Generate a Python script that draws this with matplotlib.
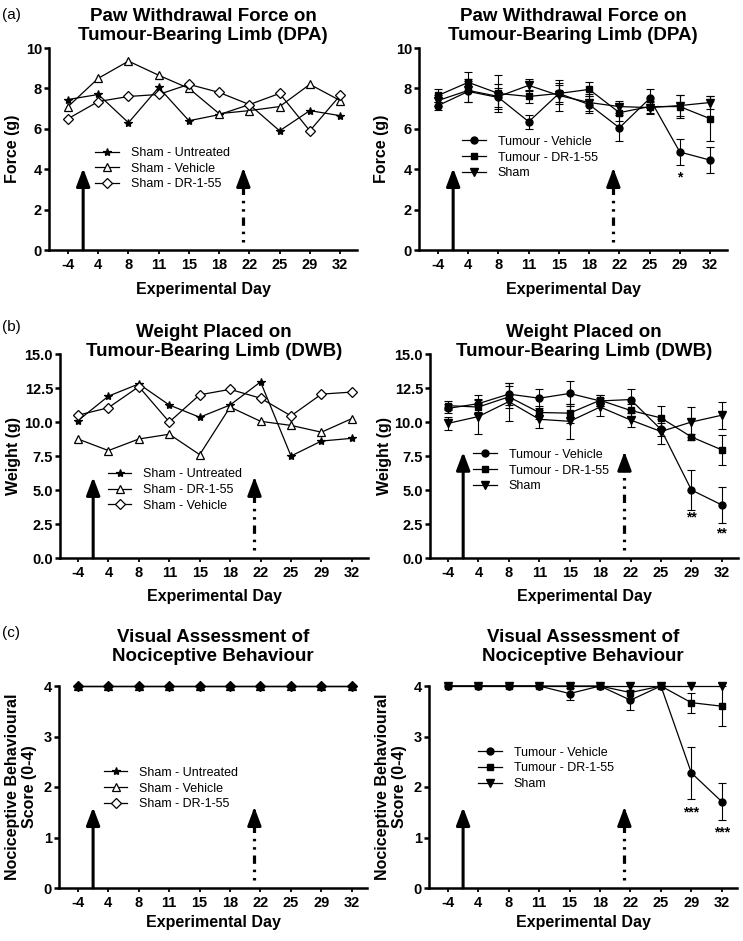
import numpy as np
import matplotlib
matplotlib.use("Agg")
import matplotlib.pyplot as plt
from matplotlib.lines import Line2D

plt.rcParams['font.family'] = ['Liberation Sans', 'DejaVu Sans']
plt.rcParams['lines.scale_dashes'] = False

# ---------------- data ----------------
day_labels = ['-4', '4', '8', '11', '15', '18', '22', '25', '29', '32']

# (a) Paw withdrawal force (DPA)
a_sham_untreated = [7.45, 7.7, 6.3, 8.05, 6.4, 6.7, 7.2, 5.9, 6.9, 6.65]
a_sham_vehicle = [7.1, 8.5, 9.35, 8.65, 8.0, 6.75, 6.9, 7.1, 8.2, 7.4]
a_sham_dr155 = [6.5, 7.35, 7.6, 7.7, 8.2, 7.8, 7.2, 7.75, 5.9, 7.65]

a_tum_vehicle = [7.15, 7.85, 7.55, 6.35, 7.75, 7.2, 6.05, 7.5, 4.85, 4.45]
a_tum_vehicle_err = [0.2, 0.5, 0.45, 0.35, 0.5, 0.4, 0.65, 0.45, 0.65, 0.65]
a_tum_dr155 = [7.65, 8.3, 7.75, 7.6, 7.75, 7.95, 6.8, 7.1, 7.1, 6.5]
a_tum_dr155_err = [0.3, 0.5, 0.9, 0.3, 0.4, 0.35, 0.4, 0.3, 0.55, 1.1]
a_sham = [7.4, 7.9, 7.6, 8.15, 7.65, 7.3, 7.1, 7.05, 7.15, 7.3]
a_sham_err = [0.25, 0.55, 0.6, 0.3, 0.75, 0.4, 0.3, 0.3, 0.5, 0.3]
a_signif = [('*', 8, 3.6)]

# (b) Weight placed (DWB)
b_sham_untreated = [10.1, 11.9, 12.8, 11.25, 10.35, 11.25, 12.95, 7.5, 8.6, 8.8]
b_sham_dr155 = [8.75, 7.9, 8.75, 9.1, 7.6, 11.1, 10.05, 9.75, 9.25, 10.25]
b_sham_vehicle = [10.5, 11.05, 12.6, 10.0, 12.0, 12.4, 11.75, 10.45, 12.05, 12.2]

b_tum_vehicle = [11.0, 11.35, 12.05, 11.75, 12.1, 11.55, 11.65, 9.45, 5.0, 3.9]
b_tum_vehicle_err = [0.35, 0.6, 0.8, 0.7, 0.9, 0.4, 0.8, 0.5, 1.45, 1.35]
b_tum_dr155 = [11.2, 11.1, 11.85, 10.7, 10.65, 11.6, 10.85, 10.3, 8.9, 7.95]
b_tum_dr155_err = [0.35, 0.5, 0.8, 0.5, 0.7, 0.4, 0.5, 0.9, 0.25, 1.1]
b_sham = [9.9, 10.4, 11.5, 10.2, 10.05, 11.1, 10.15, 9.3, 10.0, 10.5]
b_sham_err = [0.5, 1.3, 1.4, 0.65, 1.3, 0.65, 0.5, 0.9, 1.1, 1.0]
b_signif = [('**', 8, 3.0), ('**', 9, 1.8)]

# (c) Visual assessment score
c_sham_untreated = [4, 4, 4, 4, 4, 4, 4, 4, 4, 4]
c_sham_vehicle = [4, 4, 4, 4, 4, 4, 4, 4, 4, 4]
c_sham_dr155 = [4, 4, 4, 4, 4, 4, 4, 4, 4, 4]

c_tum_vehicle = [4, 4, 4, 4, 3.85, 4, 3.72, 4, 2.28, 1.71]
c_tum_vehicle_err = [0, 0, 0, 0, 0.12, 0, 0.2, 0, 0.52, 0.36]
c_tum_dr155 = [4, 4, 4, 4, 4, 4, 3.87, 4, 3.67, 3.6]
c_tum_dr155_err = [0, 0, 0, 0, 0, 0, 0.13, 0, 0.2, 0.4]
c_sham = [4, 4, 4, 4, 4, 4, 4, 4, 4, 4]
c_signif = [('***', 8, 1.5), ('***', 9, 1.1)]

# ---------------- figure ----------------
W, H = 743, 941
fig = plt.figure(figsize=(W / 100, H / 100), dpi=100)


def px_axes(left, top, right, bottom):
    return fig.add_axes([left / W, 1 - bottom / H, (right - left) / W, (bottom - top) / H])


x = np.arange(len(day_labels))
LW = 0.9
SPINE = 1.8
TICKFS = 10.5
LABFS = 11.5
TITLEFS = 13.5
LEGFS = 9


def style_axes(ax, ylim, yticks, yticklabels, xlim):
    ax.set_xlim(*xlim)
    ax.set_ylim(*ylim)
    ax.set_xticks(x)
    ax.set_xticklabels(day_labels, fontsize=TICKFS, fontweight='bold')
    ax.set_yticks(yticks)
    ax.set_yticklabels(yticklabels, fontsize=TICKFS, fontweight='bold')
    for s in ['top', 'right']:
        ax.spines[s].set_visible(False)
    for s in ['left', 'bottom']:
        ax.spines[s].set_linewidth(SPINE)
    ax.tick_params(axis='y', length=3.5, width=SPINE, pad=1.5, direction='out')
    ax.tick_params(axis='x', length=3, width=1.3, pad=3, direction='out')


def arrows(ax, tip, ymax):
    head = dict(arrowstyle='-|>,head_length=0.9,head_width=0.34', lw=2.2,
                color='black', shrinkA=0, shrinkB=0, mutation_scale=12)
    ax.annotate('', xy=(0.5, tip), xytext=(0.5, 0), arrowprops=head, annotation_clip=False)
    base = 0.04 * ymax
    ax.plot([5.8, 5.8], [base, tip - 0.07 * ymax], color='black', lw=2.3,
            dashes=(1.8, 4.2, 1.8, 4.2, 6.0, 4.2), solid_capstyle='butt',
            dash_capstyle='butt', zorder=2)
    ax.annotate('', xy=(5.8, tip), xytext=(5.8, tip - 0.03 * ymax), arrowprops=head,
                annotation_clip=False)


def legend(ax, handles, labels, fx, fy):
    ax.legend(handles, labels, loc='upper left', bbox_to_anchor=(fx, fy),
              frameon=False, fontsize=LEGFS, handlelength=1.9, handletextpad=0.95,
              labelspacing=0.3, borderpad=0, borderaxespad=0, numpoints=1)


def sham_panel(ax, series, markers):
    hs = []
    for vals, mk in zip(series, markers):
        m, ms, fc = mk
        h, = ax.plot(x, vals, color='black', lw=LW, marker=m, ms=ms,
                     mfc=fc, mec='black', mew=0.9, clip_on=False, zorder=3)
        hs.append(h)
    return hs


def tumour_panel(ax, series, errs, markers):
    hs = []
    for vals, err, mk in zip(series, errs, markers):
        m, ms = mk
        v = np.asarray(vals, float)
        e = np.asarray(err, float)
        sel = e > 0
        ax.errorbar(x[sel], v[sel], yerr=e[sel], fmt='none', ecolor='black',
                    elinewidth=0.8, capsize=3, capthick=0.8, zorder=2)
        h, = ax.plot(x, vals, color='black', lw=LW, marker=m, ms=ms,
                     mfc='black', mec='black', clip_on=False, zorder=3)
        hs.append(h)
    return hs


def signif(ax, items):
    for txt, xi, yv in items:
        ax.text(x[xi], yv, txt, ha='center', va='center', fontsize=10, fontweight='bold')


sham_mk = [('*', 6.0, 'black'), ('^', 5.6, 'white'), ('D', 4.6, 'white')]
tum_mk = [('o', 5.0), ('s', 4.6), ('v', 5.4)]

# -------- (a) --------
ax1 = px_axes(49, 48, 357, 250)
style_axes(ax1, (0, 10), [0, 2, 4, 6, 8, 10], ['0', '2', '4', '6', '8', '10'], (-0.63, 9.56))
hs = sham_panel(ax1, [a_sham_untreated, a_sham_vehicle, a_sham_dr155], sham_mk)
legend(ax1, hs, ['Sham - Untreated', 'Sham - Vehicle', 'Sham - DR-1-55'], 0.150, 0.51)
arrows(ax1, 4.05, 10)

ax2 = px_axes(419, 48, 727, 250)
style_axes(ax2, (0, 10), [0, 2, 4, 6, 8, 10], ['0', '2', '4', '6', '8', '10'], (-0.63, 9.56))
hs = tumour_panel(ax2, [a_tum_vehicle, a_tum_dr155, a_sham],
                  [a_tum_vehicle_err, a_tum_dr155_err, a_sham_err], tum_mk)
legend(ax2, hs, ['Tumour - Vehicle', 'Tumour - DR-1-55', 'Sham'], 0.14, 0.565)
arrows(ax2, 4.05, 10)
signif(ax2, a_signif)

# -------- (b) --------
bt = [0, 2.5, 5, 7.5, 10, 12.5, 15]
btl = ['0.0', '2.5', '5.0', '7.5', '10.0', '12.5', '15.0']
ax3 = px_axes(60, 354, 368, 558)
style_axes(ax3, (0, 15), bt, btl, (-0.59, 9.53))
hs = sham_panel(ax3, [b_sham_untreated, b_sham_dr155, b_sham_vehicle], sham_mk)
legend(ax3, hs, ['Sham - Untreated', 'Sham - DR-1-55', 'Sham - Vehicle'], 0.155, 0.44)
arrows(ax3, 5.95, 15)

ax4 = px_axes(430, 354, 738, 558)
style_axes(ax4, (0, 15), bt, btl, (-0.59, 9.53))
hs = tumour_panel(ax4, [b_tum_vehicle, b_tum_dr155, b_sham],
                  [b_tum_vehicle_err, b_tum_dr155_err, b_sham_err], tum_mk)
legend(ax4, hs, ['Tumour - Vehicle', 'Tumour - DR-1-55', 'Sham'], 0.14, 0.535)
arrows(ax4, 7.8, 15)
signif(ax4, b_signif)

# -------- (c) --------
ct = [0, 1, 2, 3, 4]
ctl = ['0', '1', '2', '3', '4']
ax5 = px_axes(59, 686, 367, 888)
style_axes(ax5, (0, 4), ct, ctl, (-0.62, 9.5))
sham_panel(ax5, [c_sham_untreated, c_sham_vehicle, c_sham_dr155],
           [('*', 6.0, 'black'), ('^', 5.6, 'black'), ('D', 4.6, 'black')])
leg_h = [Line2D([], [], color='black', lw=LW, marker=m, ms=ms, mfc=fc, mew=0.9)
         for m, ms, fc in sham_mk]
legend(ax5, leg_h, ['Sham - Untreated', 'Sham - Vehicle', 'Sham - DR-1-55'], 0.145, 0.60)
arrows(ax5, 1.6, 4)

ax6 = px_axes(429, 686, 737, 888)
style_axes(ax6, (0, 4), ct, ctl, (-0.62, 9.5))
hs = tumour_panel(ax6, [c_tum_vehicle, c_tum_dr155, c_sham],
                  [c_tum_vehicle_err, c_tum_dr155_err, [0] * 10], tum_mk)
legend(ax6, hs, ['Tumour - Vehicle', 'Tumour - DR-1-55', 'Sham'], 0.16, 0.70)
arrows(ax6, 1.6, 4)
signif(ax6, c_signif)


# -------- titles, labels --------
def ftext(px, py, s, **kw):
    fig.text(px / W, 1 - py / H, s, **kw)


title_kw = dict(ha='center', va='center', fontsize=TITLEFS, fontweight='bold', linespacing=1.1)
ftext(203, 26, 'Paw Withdrawal Force on\nTumour-Bearing Limb (DPA)', **title_kw)
ftext(573, 26, 'Paw Withdrawal Force on\nTumour-Bearing Limb (DPA)', **title_kw)
ftext(214, 342, 'Weight Placed on\nTumour-Bearing Limb (DWB)', **title_kw)
ftext(584, 342, 'Weight Placed on\nTumour-Bearing Limb (DWB)', **title_kw)
ftext(213, 647, 'Visual Assessment of\nNociceptive Behaviour', **title_kw)
ftext(583, 647, 'Visual Assessment of\nNociceptive Behaviour', **title_kw)

xl_kw = dict(ha='center', va='center', fontsize=LABFS, fontweight='bold')
ftext(203, 289, 'Experimental Day', **xl_kw)
ftext(573, 289, 'Experimental Day', **xl_kw)
ftext(214, 597, 'Experimental Day', **xl_kw)
ftext(584, 597, 'Experimental Day', **xl_kw)
ftext(213, 922, 'Experimental Day', **xl_kw)
ftext(583, 922, 'Experimental Day', **xl_kw)

yl_kw = dict(ha='center', va='center', fontsize=LABFS, fontweight='bold', rotation=90)
ftext(12, 149, 'Force (g)', **yl_kw)
ftext(382, 149, 'Force (g)', **yl_kw)
ftext(14, 456, 'Weight (g)', **yl_kw)
ftext(384, 456, 'Weight (g)', **yl_kw)
ftext(21, 787, 'Nociceptive Behavioural\nScore (0-4)', linespacing=1.1, **yl_kw)
ftext(391, 787, 'Nociceptive Behavioural\nScore (0-4)', linespacing=1.1, **yl_kw)

pl_kw = dict(ha='left', va='center', fontsize=11)
ftext(2, 15, '(a)', **pl_kw)
ftext(2, 327, '(b)', **pl_kw)
ftext(2, 633, '(c)', **pl_kw)

fig.savefig('out.png', dpi=100)
